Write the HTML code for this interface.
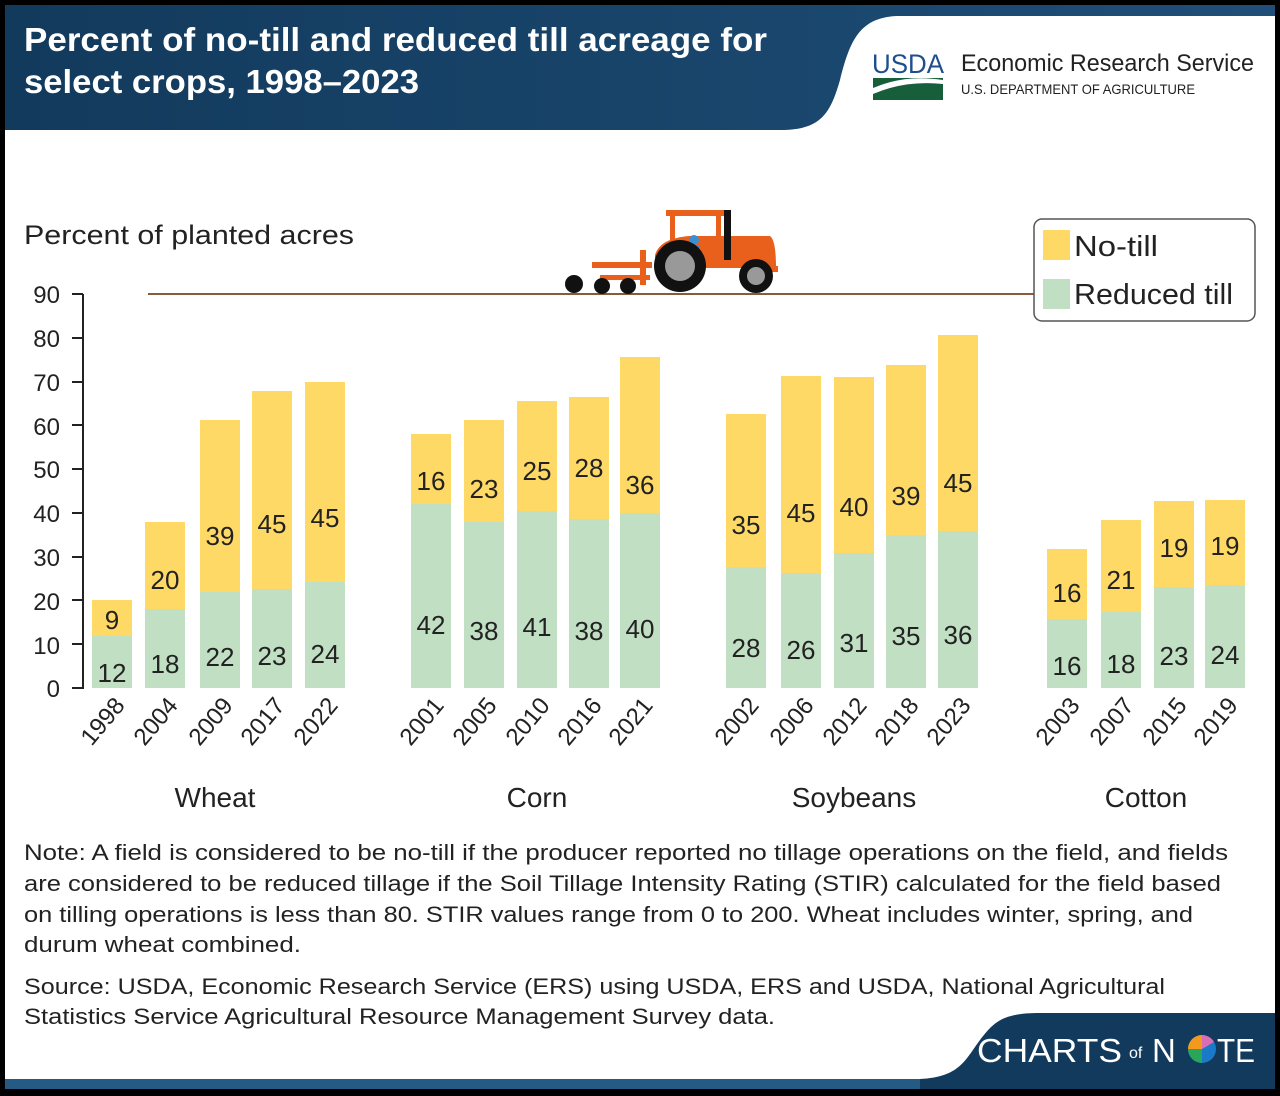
<!DOCTYPE html><html><head><style>body{margin:0;background:#000}svg{display:block}text{font-family:"Liberation Sans",sans-serif}</style></head><body>
<svg width="1280" height="1096" viewBox="0 0 1280 1096" xmlns="http://www.w3.org/2000/svg">
<rect x="0" y="0" width="1280" height="1096" fill="#000"/>
<rect x="5" y="5" width="1270" height="1084" fill="#fff"/>
<defs><linearGradient id="g" x1="0" x2="1"><stop offset="0" stop-color="#123a5c"/><stop offset="1" stop-color="#1f4e78"/></linearGradient></defs>
<path d="M5 5 H1275 V16 H900 C860 16 850 40 840 80 C830 115 820 130 780 130 H5 Z" fill="url(#g)"/>
<text x="24" y="51" font-size="33" font-weight="bold" fill="#fff" textLength="743" lengthAdjust="spacingAndGlyphs">Percent of no-till and reduced till acreage for</text>
<text x="24" y="93" font-size="33" font-weight="bold" fill="#fff" textLength="395" lengthAdjust="spacingAndGlyphs">select crops, 1998–2023</text>
<text x="872" y="73" font-size="27" font-family="Liberation Serif" fill="#1f4e8c" textLength="72" lengthAdjust="spacingAndGlyphs">USDA</text>
<rect x="873" y="78" width="70" height="22" fill="#175e3a"/>
<path d="M873 88 Q905 74 943 80 L943 84 Q905 80 873 94Z" fill="#fff"/>
<text x="961" y="71" font-size="24" fill="#222" textLength="293" lengthAdjust="spacingAndGlyphs">Economic Research Service</text>
<text x="961" y="94" font-size="14" fill="#222" textLength="234" lengthAdjust="spacingAndGlyphs">U.S. DEPARTMENT OF AGRICULTURE</text>
<text x="24" y="244" font-size="27" fill="#222" textLength="330" lengthAdjust="spacingAndGlyphs">Percent of planted acres</text>
<line x1="148" y1="294" x2="1034" y2="294" stroke="#8b5a3c" stroke-width="2"/>
<g fill="#e8601c">
<rect x="666" y="210" width="58" height="6"/><rect x="670" y="214" width="5" height="30"/><rect x="716" y="214" width="5" height="30"/>
<path d="M655 255 Q660 238 690 236 L770 236 Q776 240 776 268 L655 268Z"/>
<rect x="592" y="262" width="60" height="6"/><rect x="600" y="275" width="50" height="5"/><rect x="640" y="250" width="6" height="35"/>
<rect x="770" y="266" width="8" height="6"/>
</g>
<rect x="724" y="210" width="7" height="50" fill="#111"/>
<circle cx="694" cy="240" r="5" fill="#3a8fd0"/><rect x="690" y="245" width="10" height="12" fill="#3a8fd0"/>
<circle cx="680" cy="266" r="26" fill="#111"/><circle cx="680" cy="266" r="15" fill="#999"/>
<circle cx="756" cy="276" r="17" fill="#111"/><circle cx="756" cy="276" r="9" fill="#999"/>
<circle cx="574" cy="284" r="9" fill="#111"/><circle cx="602" cy="286" r="8" fill="#111"/><circle cx="628" cy="286" r="8" fill="#111"/>
<g font-size="24" fill="#222" text-anchor="end">
<text x="60" y="697">0</text><text x="60" y="654">10</text><text x="60" y="610">20</text><text x="60" y="566">30</text><text x="60" y="522">40</text><text x="60" y="478">50</text><text x="60" y="435">60</text><text x="60" y="391">70</text><text x="60" y="347">80</text><text x="60" y="303">90</text>
</g>
<g stroke="#222" stroke-width="2">
<line x1="83" y1="294" x2="83" y2="689"/>
<line x1="72" y1="688" x2="83" y2="688"/><line x1="72" y1="644" x2="83" y2="644"/><line x1="72" y1="600" x2="83" y2="600"/><line x1="72" y1="557" x2="83" y2="557"/><line x1="72" y1="513" x2="83" y2="513"/><line x1="72" y1="469" x2="83" y2="469"/><line x1="72" y1="425" x2="83" y2="425"/><line x1="72" y1="382" x2="83" y2="382"/><line x1="72" y1="338" x2="83" y2="338"/><line x1="72" y1="294" x2="83" y2="294"/>
</g>
<g fill="#c0dfc3">
<rect x="92" y="636" width="40" height="52"/><rect x="145" y="609" width="40" height="79"/><rect x="200" y="592" width="40" height="96"/><rect x="252" y="589" width="40" height="99"/><rect x="305" y="582" width="40" height="106"/>
<rect x="411" y="504" width="40" height="184"/><rect x="464" y="522" width="40" height="166"/><rect x="517" y="511" width="40" height="177"/><rect x="569" y="519" width="40" height="169"/><rect x="620" y="513" width="40" height="175"/>
<rect x="726" y="567" width="40" height="121"/><rect x="781" y="573" width="40" height="115"/><rect x="834" y="553" width="40" height="135"/><rect x="886" y="535" width="40" height="153"/><rect x="938" y="531" width="40" height="157"/>
<rect x="1047" y="619" width="40" height="69"/><rect x="1101" y="612" width="40" height="76"/><rect x="1154" y="587" width="40" height="101"/><rect x="1205" y="585" width="40" height="103"/>
</g>
<g fill="#fed966">
<rect x="92" y="600" width="40" height="36"/><rect x="145" y="522" width="40" height="87"/><rect x="200" y="420" width="40" height="172"/><rect x="252" y="391" width="40" height="198"/><rect x="305" y="382" width="40" height="200"/>
<rect x="411" y="434" width="40" height="70"/><rect x="464" y="420" width="40" height="102"/><rect x="517" y="401" width="40" height="110"/><rect x="569" y="397" width="40" height="122"/><rect x="620" y="357" width="40" height="156"/>
<rect x="726" y="414" width="40" height="153"/><rect x="781" y="376" width="40" height="197"/><rect x="834" y="377" width="40" height="176"/><rect x="886" y="365" width="40" height="170"/><rect x="938" y="335" width="40" height="196"/>
<rect x="1047" y="549" width="40" height="70"/><rect x="1101" y="520" width="40" height="92"/><rect x="1154" y="501" width="40" height="86"/><rect x="1205" y="500" width="40" height="85"/>
</g>
<g font-size="26" fill="#222" text-anchor="middle">
<text x="112" y="682">12</text><text x="165" y="673">18</text><text x="220" y="666">22</text><text x="272" y="665">23</text><text x="325" y="663">24</text>
<text x="431" y="634">42</text><text x="484" y="640">38</text><text x="537" y="636">41</text><text x="589" y="640">38</text><text x="640" y="638">40</text>
<text x="746" y="657">28</text><text x="801" y="659">26</text><text x="854" y="652">31</text><text x="906" y="645">35</text><text x="958" y="644">36</text>
<text x="1067" y="675">16</text><text x="1121" y="673">18</text><text x="1174" y="665">23</text><text x="1225" y="664">24</text>
<text x="112" y="629">9</text><text x="165" y="589">20</text><text x="220" y="545">39</text><text x="272" y="533">45</text><text x="325" y="527">45</text>
<text x="431" y="490">16</text><text x="484" y="498">23</text><text x="537" y="480">25</text><text x="589" y="477">28</text><text x="640" y="494">36</text>
<text x="746" y="534">35</text><text x="801" y="522">45</text><text x="854" y="516">40</text><text x="906" y="505">39</text><text x="958" y="492">45</text>
<text x="1067" y="602">16</text><text x="1121" y="589">21</text><text x="1174" y="557">19</text><text x="1225" y="555">19</text>
</g>
<g font-size="24" fill="#222" text-anchor="end">
<text transform="translate(126,706) rotate(-50)">1998</text><text transform="translate(179,706) rotate(-50)">2004</text><text transform="translate(234,706) rotate(-50)">2009</text><text transform="translate(286,706) rotate(-50)">2017</text><text transform="translate(339,706) rotate(-50)">2022</text>
<text transform="translate(445,706) rotate(-50)">2001</text><text transform="translate(498,706) rotate(-50)">2005</text><text transform="translate(551,706) rotate(-50)">2010</text><text transform="translate(603,706) rotate(-50)">2016</text><text transform="translate(654,706) rotate(-50)">2021</text>
<text transform="translate(760,706) rotate(-50)">2002</text><text transform="translate(815,706) rotate(-50)">2006</text><text transform="translate(868,706) rotate(-50)">2012</text><text transform="translate(920,706) rotate(-50)">2018</text><text transform="translate(972,706) rotate(-50)">2023</text>
<text transform="translate(1081,706) rotate(-50)">2003</text><text transform="translate(1135,706) rotate(-50)">2007</text><text transform="translate(1188,706) rotate(-50)">2015</text><text transform="translate(1239,706) rotate(-50)">2019</text>
</g>
<rect x="1034" y="219" width="221" height="102" rx="8" fill="#fff" stroke="#555" stroke-width="1.5"/>
<rect x="1043" y="230" width="27" height="30" fill="#fed966"/><rect x="1043" y="279" width="27" height="30" fill="#c0dfc3"/>
<text x="1074" y="256" font-size="29" fill="#222" textLength="84" lengthAdjust="spacingAndGlyphs">No-till</text><text x="1074" y="304" font-size="29" fill="#222" textLength="159" lengthAdjust="spacingAndGlyphs">Reduced till</text>
<g font-size="28" fill="#222" text-anchor="middle">
<text x="215" y="807">Wheat</text><text x="537" y="807">Corn</text><text x="854" y="807">Soybeans</text><text x="1146" y="807">Cotton</text>
</g>
<g font-size="22" fill="#222">
<text x="24" y="860" textLength="1204" lengthAdjust="spacingAndGlyphs">Note: A field is considered to be no-till if the producer reported no tillage operations on the field, and fields</text>
<text x="24" y="891" textLength="1197" lengthAdjust="spacingAndGlyphs">are considered to be reduced tillage if the Soil Tillage Intensity Rating (STIR) calculated for the field based</text>
<text x="24" y="922" textLength="1169" lengthAdjust="spacingAndGlyphs">on tilling operations is less than 80. STIR values range from 0 to 200. Wheat includes winter, spring, and</text>
<text x="24" y="952" textLength="277" lengthAdjust="spacingAndGlyphs">durum wheat combined.</text>
<text x="24" y="994" textLength="1141" lengthAdjust="spacingAndGlyphs">Source: USDA, Economic Research Service (ERS) using USDA, ERS and USDA, National Agricultural</text>
<text x="24" y="1024" textLength="751" lengthAdjust="spacingAndGlyphs">Statistics Service Agricultural Resource Management Survey data.</text>
</g>
<rect x="5" y="1079" width="1270" height="10" fill="#245a84"/>
<path d="M920 1079 C960 1077 965 1060 980 1040 C995 1020 1005 1013 1040 1013 H1275 V1089 H920 Z" fill="#123a5c"/>
<text x="977" y="1062" font-size="33" fill="#fff" textLength="145" lengthAdjust="spacingAndGlyphs">CHARTS</text><text x="1129" y="1058" font-size="16" fill="#fff">of</text><text x="1152" y="1062" font-size="33" fill="#fff">N</text>
<circle cx="1202" cy="1049" r="14" fill="#1b7ac8"/><path d="M1202 1049 L1202 1035 A14 14 0 0 0 1188 1049Z" fill="#f39a1e"/><path d="M1202 1049 L1188 1049 A14 14 0 0 0 1202 1063Z" fill="#2aa65a"/><path d="M1202 1049 L1202 1035 A14 14 0 0 1 1214 1042Z" fill="#d86fb6"/>
<text x="1217" y="1062" font-size="33" fill="#fff" textLength="38" lengthAdjust="spacingAndGlyphs">TE</text>
</svg></body></html>
